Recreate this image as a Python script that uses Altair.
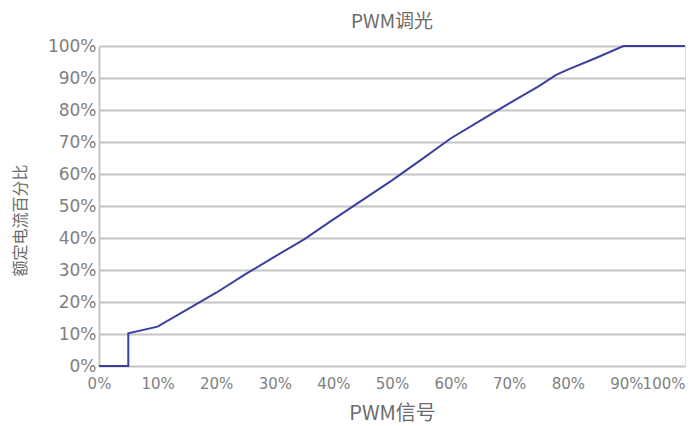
import altair as alt
import pandas as pd

# PWM signal (%) and rated current percentage (%)
pwm = [0, 5, 5, 10, 15, 20, 25, 30, 35, 40, 45, 50, 55, 60, 65, 70, 75, 78, 80, 85, 89.5, 100]
current = [0, 0, 10.2, 12.3, 17.6, 22.9, 28.7, 34.2, 39.6, 45.8, 51.9, 58.0, 64.5, 71.1, 76.6, 82.1, 87.4, 91.0, 92.6, 96.4, 100, 100]
ticks = [0, 0.1, 0.2, 0.3, 0.4, 0.5, 0.6, 0.7, 0.8, 0.9, 1.0]

df = pd.DataFrame({
    "idx": list(range(len(pwm))),
    "x": [v / 100 for v in pwm],
    "y": [v / 100 for v in current],
})

LABEL = "#7f7f7f"
TITLE = "#6b6b6b"
GRID = "#c4c4c4"
FONT = "DejaVu Sans"
CJK = "Noto Sans CJK SC"

chart = alt.Chart(df).mark_line(color="#3b3f9e", strokeWidth=2).encode(
    x=alt.X("x:Q",
            scale=alt.Scale(domain=[0, 1], nice=False, zero=False),
            axis=alt.Axis(values=ticks, format=".0%", title="PWM信号",
                          grid=False, ticks=False, domain=False,
                          labelFont=FONT, labelFontSize=15, labelColor=LABEL,
                          labelPadding=10,
                          labelAlign=alt.expr("datum.value == 1 ? 'right' : 'center'"),
                          labelFlush=False, labelOverlap=False,
                          titleFont=CJK, titleFontSize=20, titleFontWeight="normal",
                          titleColor=TITLE, titlePadding=12)),
    y=alt.Y("y:Q",
            scale=alt.Scale(domain=[0, 1], nice=False, zero=False),
            axis=alt.Axis(values=ticks, format=".0%", title="额定电流百分比",
                          grid=True, gridColor=GRID, gridWidth=2,
                          ticks=False, domain=True, domainColor=GRID, domainWidth=2,
                          labelFont=FONT, labelFontSize=17, labelColor=LABEL,
                          labelPadding=3, labelOverlap=False,
                          titleFont=CJK, titleFontSize=16, titleFontWeight="normal",
                          titleColor=TITLE, titleAngle=270,
                          titleX=-79, titleY=174, titleAlign="center",
                          titleBaseline="middle")),
    order="idx:Q",
).properties(
    width=586,
    height=320,
    title=alt.TitleParams("PWM调光", font=CJK, fontSize=19, fontWeight="normal",
                          color=TITLE, anchor="middle", offset=5),
    autosize=alt.AutoSizeParams(type="none"),
    padding={"left": 91, "top": 38, "right": 2, "bottom": 60},
).configure_view(
    stroke=GRID, strokeWidth=2
).configure(background="white")

chart.save("out.html", embed_options={"renderer": "svg", "actions": False})
